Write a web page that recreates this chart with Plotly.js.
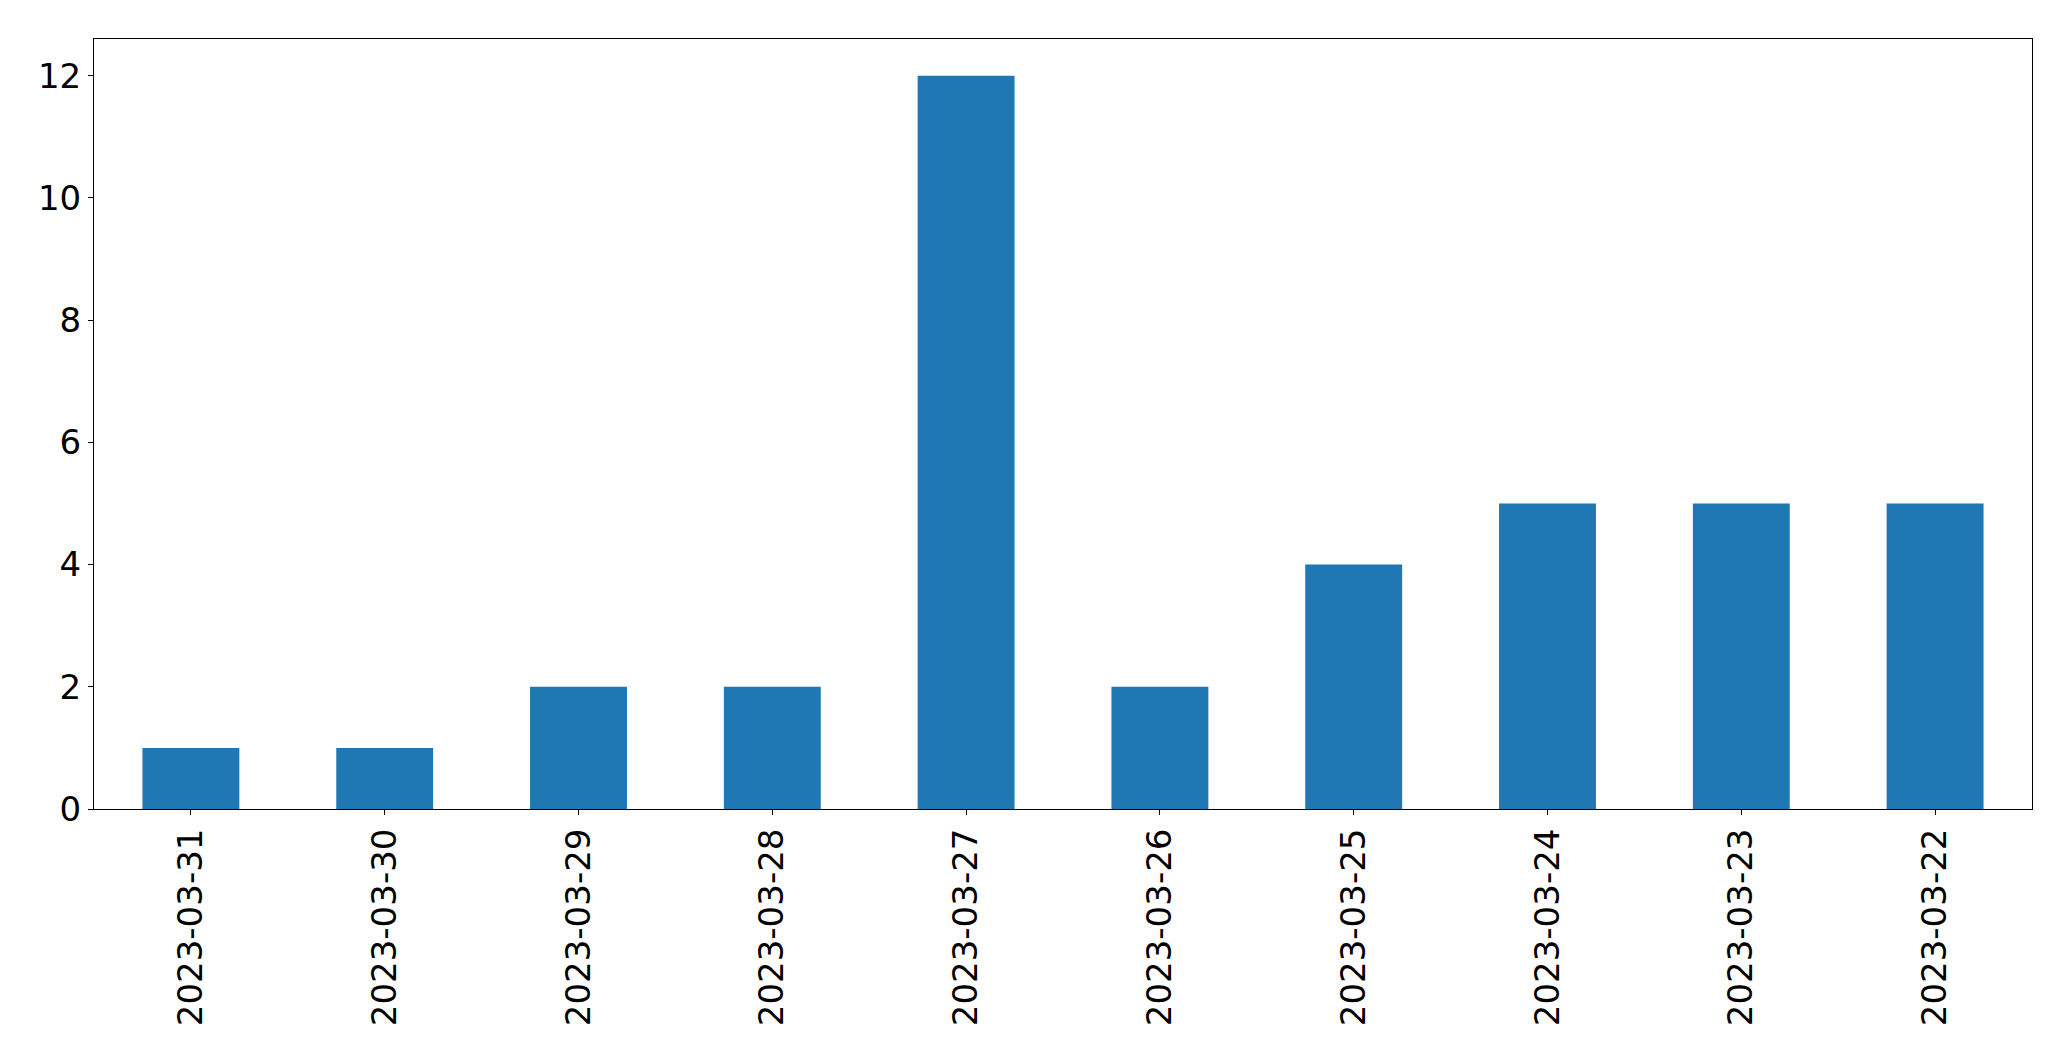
<!DOCTYPE html>
<html>
<head>
<meta charset="utf-8">
<script src="https://cdn.plot.ly/plotly-3.0.1.min.js"></script>
<style>html,body{margin:0;padding:0;background:#fff;}#chart{width:2071px;height:1061px;}</style>
</head>
<body>
<div id="chart"></div>
<script>
const dates = ["2023-03-31","2023-03-30","2023-03-29","2023-03-28","2023-03-27","2023-03-26","2023-03-25","2023-03-24","2023-03-23","2023-03-22"];
const counts = [1, 1, 2, 2, 12, 2, 4, 5, 5, 5];
const yTicks = [0, 2, 4, 6, 8, 10, 12];

const font = {family: "DejaVu Sans", size: 34, color: "#000"};
Plotly.newPlot("chart", [{
  type: "bar",
  x: dates,
  y: counts,
  width: 0.5,
  marker: {color: "#1f77b4", line: {width: 0}},
  hoverinfo: "x+y"
}], {
  width: 2071, height: 1061,
  margin: {l: 94, r: 39, t: 39, b: 252, pad: 0},
  paper_bgcolor: "#fff", plot_bgcolor: "#fff",
  showlegend: false,
  font: font,
  xaxis: {
    type: "category",
    range: [-0.5, 9.5],
    tickangle: -90,
    ticks: "outside", ticklen: 5, tickwidth: 1, tickcolor: "#000",
    showline: true, linecolor: "#000", linewidth: 1, mirror: true,
    showgrid: false, zeroline: false,
    tickfont: font
  },
  yaxis: {
    range: [0, 12.6],
    tickvals: yTicks,
    ticktext: yTicks.map(String),
    ticks: "outside", ticklen: 5, tickwidth: 1, tickcolor: "#000",
    showline: true, linecolor: "#000", linewidth: 1, mirror: true,
    showgrid: false, zeroline: false,
    tickfont: font
  }
}, {displayModeBar: false, staticPlot: true});
</script>
</body>
</html>
